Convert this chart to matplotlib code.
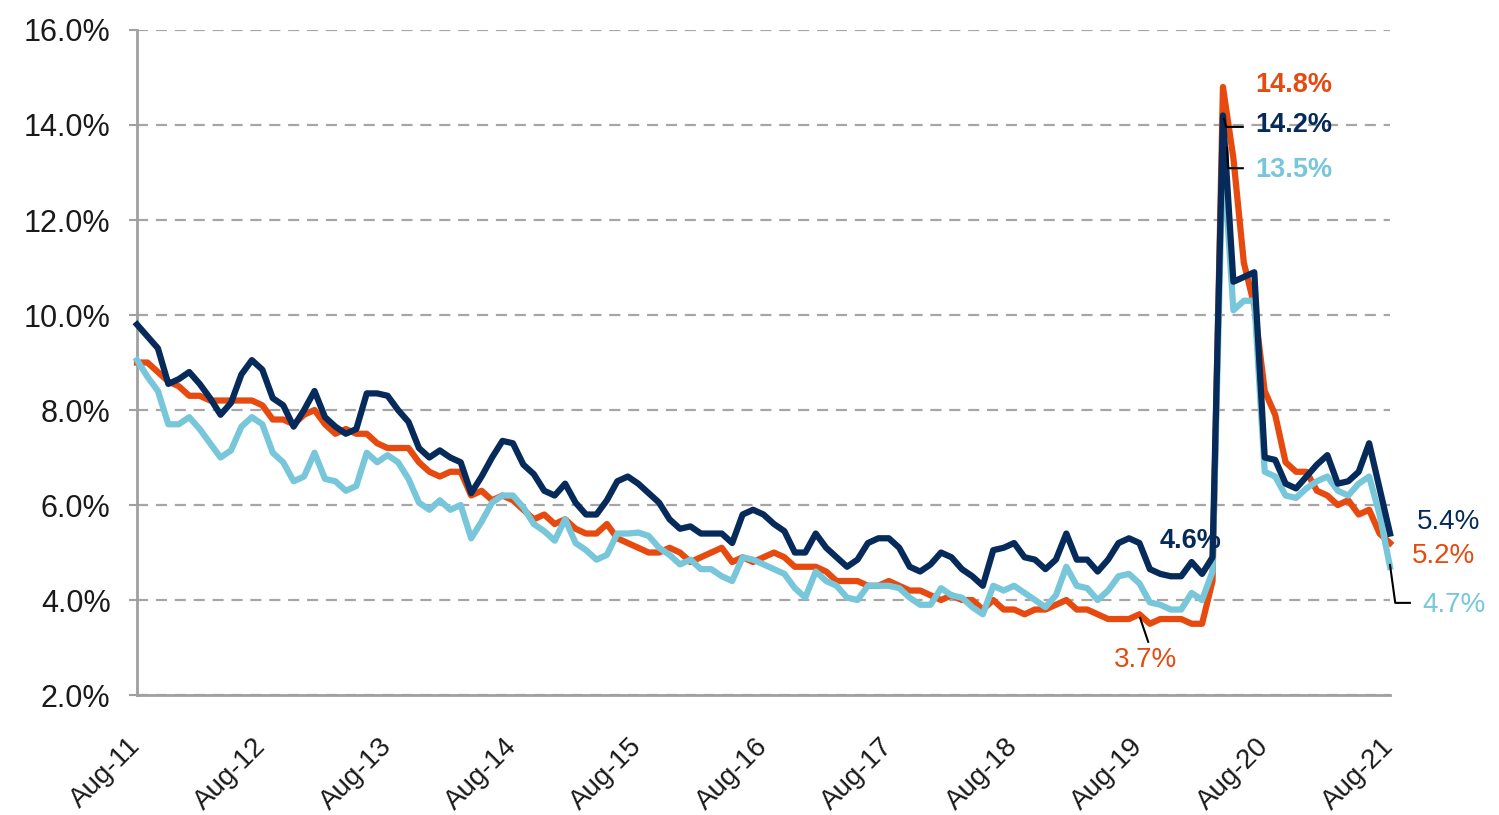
import matplotlib
matplotlib.use("Agg")
import matplotlib.pyplot as plt
import matplotlib.ticker as mticker
import pandas as pd

plt.rcParams['font.family'] = ['Liberation Sans', 'DejaVu Sans']

# monthly, Aug-2011 .. Aug-2021
months = pd.date_range('2011-08-01', '2021-08-01', freq='MS')

navy_vals = [9.8, 9.55, 9.3, 8.55, 8.65, 8.8, 8.55, 8.25, 7.9, 8.15, 8.75, 9.05,
             8.85, 8.25, 8.1, 7.65, 8.0, 8.4, 7.85, 7.65, 7.5, 7.6, 8.35, 8.35,
             8.3, 8.0, 7.75, 7.2, 7.0, 7.15, 7.0, 6.9, 6.25, 6.6, 7.0, 7.35,
             7.3, 6.85, 6.65, 6.3, 6.2, 6.45, 6.05, 5.8, 5.8, 6.1, 6.5, 6.6,
             6.45, 6.25, 6.05, 5.7, 5.5, 5.55, 5.4, 5.4, 5.4, 5.2, 5.8, 5.9,
             5.8, 5.6, 5.45, 5.0, 5.0, 5.4, 5.1, 4.9, 4.7, 4.85, 5.2, 5.3,
             5.3, 5.1, 4.7, 4.6, 4.75, 5.0, 4.9, 4.65, 4.5, 4.3, 5.05, 5.1,
             5.2, 4.9, 4.85, 4.65, 4.85, 5.4, 4.85, 4.85, 4.6, 4.85, 5.2, 5.3,
             5.2, 4.65, 4.55, 4.5, 4.5, 4.8, 4.55, 4.9, 14.2, 10.7, 10.8, 10.9,
             7.0, 6.95, 6.45, 6.35, 6.6, 6.85, 7.05, 6.45, 6.5, 6.7, 7.3, 6.35,
             5.4]

orange_vals = [9.0, 9.0, 8.8, 8.6, 8.5,
               8.3, 8.3, 8.2, 8.2, 8.2, 8.2, 8.2, 8.1, 7.8, 7.8, 7.7, 7.9,
               8.0, 7.7, 7.5, 7.6, 7.5, 7.5, 7.3, 7.2, 7.2, 7.2, 6.9, 6.7,
               6.6, 6.7, 6.7, 6.2, 6.3, 6.1, 6.2, 6.1, 5.9, 5.7, 5.8, 5.6,
               5.7, 5.5, 5.4, 5.4, 5.6, 5.3, 5.2, 5.1, 5.0, 5.0, 5.1, 5.0,
               4.8, 4.9, 5.0, 5.1, 4.8, 4.9, 4.8, 4.9, 5.0, 4.9, 4.7, 4.7,
               4.7, 4.6, 4.4, 4.4, 4.4, 4.3, 4.3, 4.4, 4.3, 4.2, 4.2, 4.1,
               4.0, 4.1, 4.0, 4.0, 3.8, 4.0, 3.8, 3.8, 3.7, 3.8, 3.8, 3.9,
               4.0, 3.8, 3.8, 3.7, 3.6, 3.6, 3.6, 3.7, 3.5, 3.6, 3.6, 3.6,
               3.5, 3.5, 4.4, 14.8, 13.3, 11.1, 10.2, 8.4, 7.9, 6.9, 6.7, 6.7,
               6.3, 6.2, 6.0, 6.1, 5.8, 5.9, 5.4, 5.2]

light_vals = [9.05, 8.7, 8.4, 7.7, 7.7, 7.85, 7.6, 7.3, 7.0, 7.15, 7.65, 7.85,
              7.7, 7.1, 6.9, 6.5, 6.6, 7.1, 6.55, 6.5, 6.3, 6.4, 7.1, 6.9,
              7.05, 6.9, 6.55, 6.05, 5.9, 6.1, 5.9, 6.0, 5.3, 5.65, 6.05, 6.2,
              6.2, 5.95, 5.6, 5.45, 5.25, 5.7, 5.2, 5.05, 4.85, 4.95, 5.4, 5.4,
              5.42, 5.35, 5.1, 4.95, 4.75, 4.85, 4.65, 4.65, 4.5, 4.4, 4.9, 4.85,
              4.75, 4.65, 4.55, 4.25, 4.05, 4.6, 4.4, 4.3, 4.05, 4.0, 4.3, 4.3,
              4.3, 4.25, 4.05, 3.9, 3.9, 4.25, 4.1, 4.05, 3.85, 3.7, 4.3, 4.2,
              4.3, 4.15, 4.0, 3.85, 4.1, 4.7, 4.3, 4.25, 4.0, 4.2, 4.5, 4.55,
              4.35, 3.95, 3.9, 3.8, 3.8, 4.15, 4.0, 4.6, 13.5, 10.1, 10.3, 10.3,
              6.7, 6.6, 6.2, 6.15, 6.35, 6.5, 6.6, 6.3, 6.2, 6.45, 6.6, 5.8,
              4.7]

NAVY = '#062b5b'
ORANGE = '#e64a0f'
LIGHT = '#78c6da'

x = list(range(len(months)))

fig = plt.figure(figsize=(14.99, 8.15), dpi=100)
ax = fig.add_axes([0.0914, 0.1472, 0.8359, 0.816])

ax.plot(x, orange_vals, color=ORANGE, lw=4.5, clip_on=False, zorder=3, solid_joinstyle='round')
ax.plot(x, light_vals, color=LIGHT, lw=4.5, clip_on=False, zorder=4, solid_joinstyle='round')
ax.plot(x, navy_vals, color=NAVY, lw=4.5, clip_on=False, zorder=5, solid_joinstyle='round')

ax.set_xlim(0, len(x) - 1)
ax.set_ylim(2, 16)
ax.yaxis.set_major_locator(mticker.MultipleLocator(2))
ax.yaxis.set_major_formatter(mticker.FuncFormatter(lambda v, p: f'{v:.1f}%'))

tick_pos = x[::12]
ax.set_xticks(tick_pos)
ax.set_xticklabels([months[i].strftime('%b-%y') for i in tick_pos],
                   rotation=45, ha='right', va='center', rotation_mode='anchor')

ax.grid(axis='y', color='#a6a6a6', lw=1.6, ls=(0, (5, 3.5)))
ax.set_axisbelow(True)
for s in ['top', 'right']:
    ax.spines[s].set_visible(False)
for s in ['left', 'bottom']:
    ax.spines[s].set_color('#a0a0a0')
    ax.spines[s].set_linewidth(2)
ax.tick_params(axis='y', length=6, width=1.5, color='#a0a0a0', labelsize=22,
               labelcolor='#1a1a1a', pad=13)
ax.tick_params(axis='x', length=0, labelsize=20, labelcolor='#1a1a1a', pad=34)

# labels
ax.text(107.1, 14.84, '14.8%', color=ORANGE, fontsize=19.5, fontweight='bold', va='center')
ax.text(107.1, 14.0, '14.2%', color=NAVY, fontsize=19.5, fontweight='bold', va='center')
ax.text(107.1, 13.05, '13.5%', color=LIGHT, fontsize=19.5, fontweight='bold', va='center')
ax.plot([104.1, 104.3, 105.9], [14.13, 13.96, 13.96], color='black', lw=1.5, zorder=6, clip_on=False)
ax.plot([104.4, 104.5, 105.9], [13.52, 13.09, 13.09], color='black', lw=1.5, zorder=6, clip_on=False)

ax.text(100.9, 5.24, '4.6%', color=NAVY, fontsize=19.5, fontweight='bold', ha='center', va='center', zorder=7)
ax.text(96.6, 2.74, '3.7%', color=ORANGE, fontsize=20, ha='center', va='center')
ax.plot([96.07, 96.84], [3.62, 3.12], color='black', lw=1.5, zorder=6)

ax.text(122.6, 5.64, '5.4%', color=NAVY, fontsize=20, va='center', clip_on=False)
ax.text(122.1, 4.93, '5.2%', color=ORANGE, fontsize=20, va='center', clip_on=False)
ax.text(123.1, 3.89, '4.7%', color=LIGHT, fontsize=20, va='center', clip_on=False)
ax.plot([120, 120.5, 121.9], [4.74, 3.94, 3.94], color='black', lw=1.5, zorder=6, clip_on=False)

fig.savefig('out.png', dpi=100)
